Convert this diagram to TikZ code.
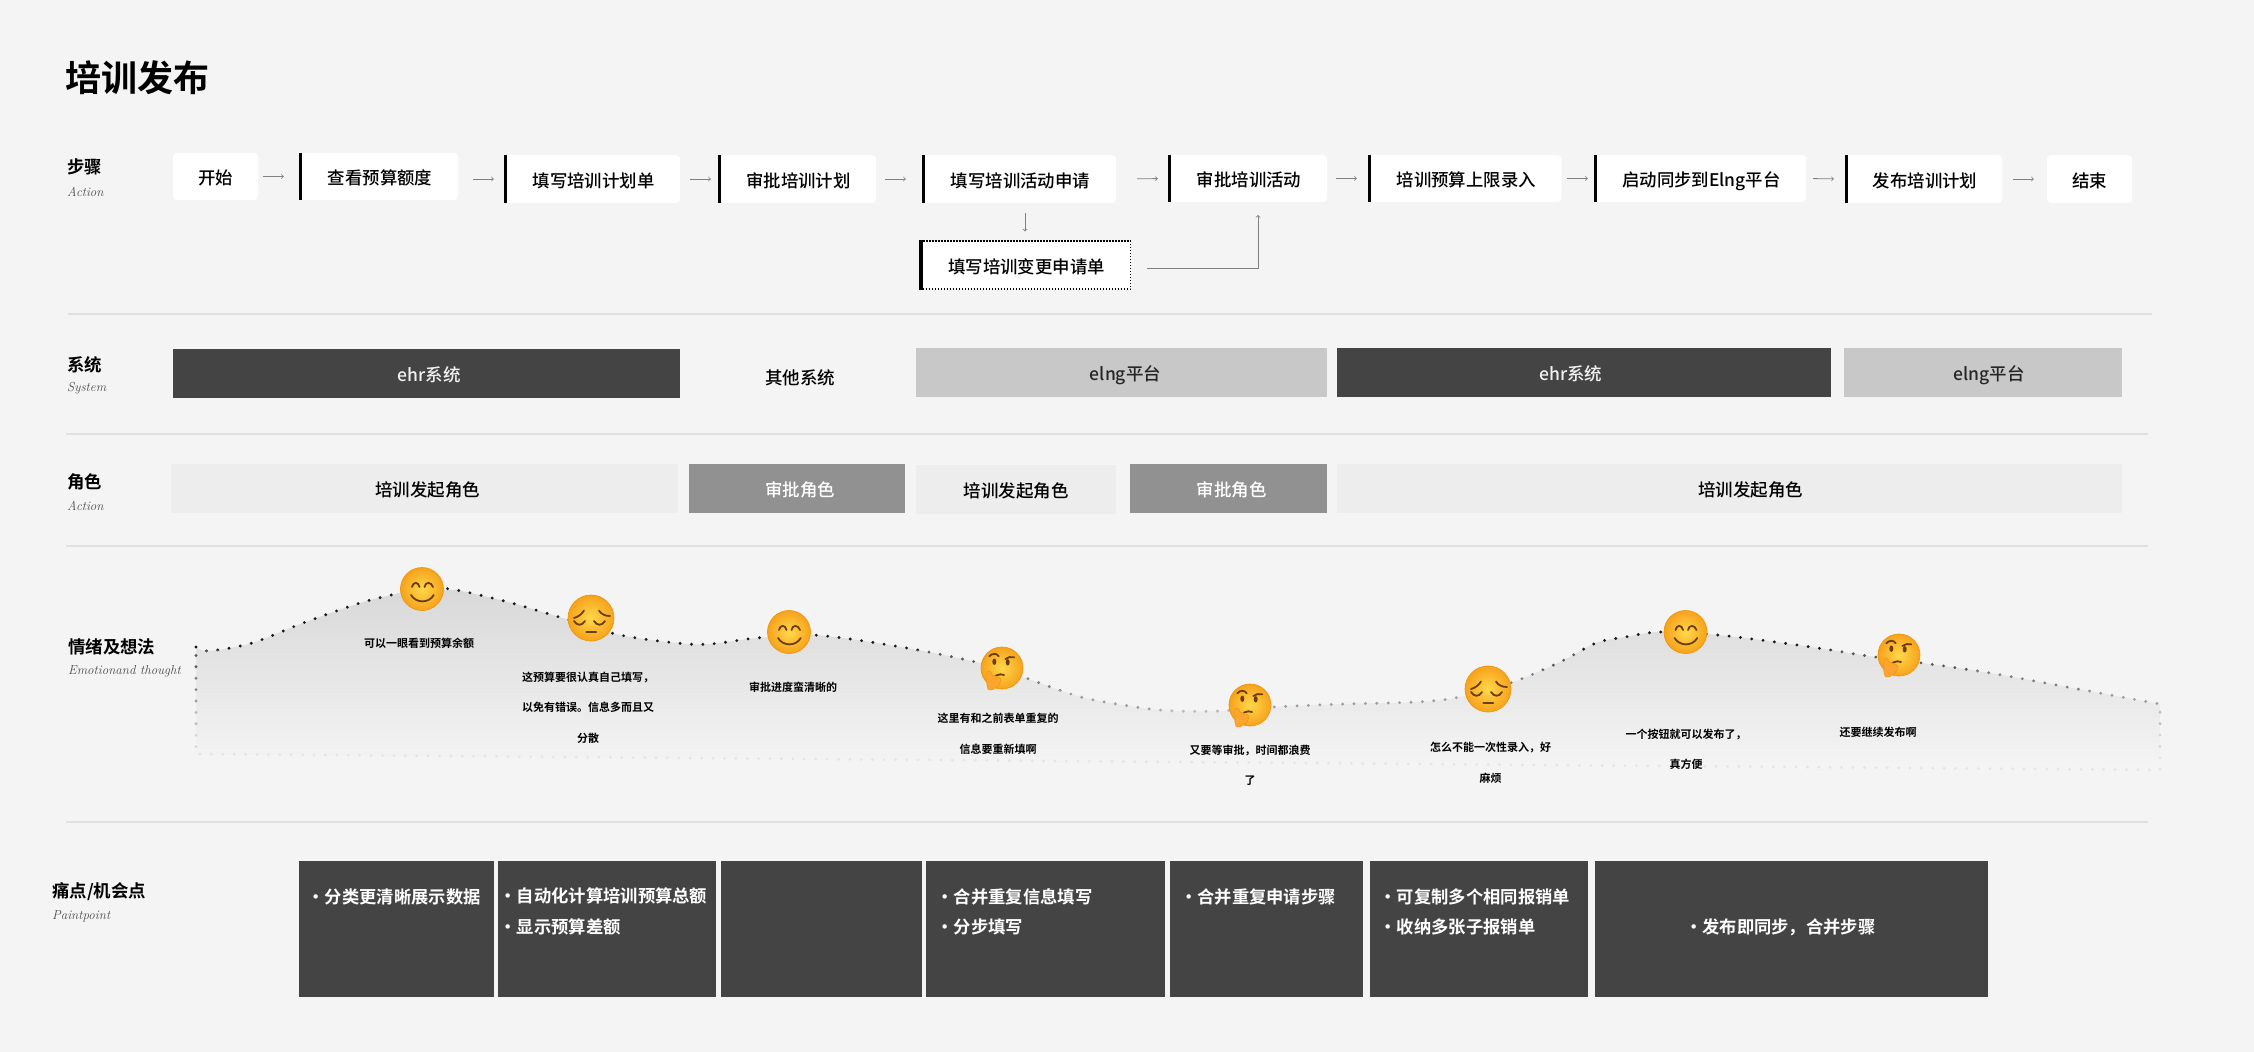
\documentclass[tikz,border=0pt]{standalone}
\usepackage{fontspec}
\newfontfamily\cjkm{Noto Sans CJK SC Medium}[BoldFont={Noto Sans CJK SC Bold}]
\newcommand{\sizept}[2]{\fontsize{#1}{#2}\selectfont}
\newcommand{\dotmark}{•\hspace{-4pt} }
\definecolor{pagebg}{HTML}{F4F4F4}
\definecolor{ruleline}{HTML}{E0E0E0}
\definecolor{darkbar}{HTML}{444444}
\definecolor{lightbar}{HTML}{C8C8C8}
\definecolor{rolelight}{HTML}{EDEDED}
\definecolor{rolemid}{HTML}{919191}
\definecolor{facein}{HTML}{FFD84A}
\definecolor{faceout}{HTML}{F6A21C}
\definecolor{facering}{HTML}{F0960F}
\definecolor{facedark}{HTML}{6B3E0A}
\definecolor{handcol}{HTML}{FBA52E}
\newcommand{\moodtop}{plot[smooth,tension=.55] coordinates {(196,647) (209,651) (252,643) (303,623) (360,603) (396,594) (422,589) (450,589) (504,601) (566,619) (620,635) (677,643) (710,644) (757,638) (814,635) (901,647) (980,663) (1023,677) (1081,697) (1136,707) (1173,711) (1223,711) (1273,707) (1345,704) (1417,702) (1460,697) (1513,682) (1560,662) (1596,643) (1625,637) (1660,632) (1718,635) (1797,645) (1875,657) (1922,663) (1990,673) (2083,690) (2160,704)}}
\tikzset{
  textshift/.style={execute at begin node={\hspace*{#1}}},
  boxtext/.style={inner sep=0pt,text height=18pt,text depth=2pt},
  stepbox/.style={boxtext,fill=white,rounded corners=4pt,text=black,font=\cjkm\sizept{17.4}{20}},
  barbox/.style={stepbox,textshift=3pt},
  changebox/.style={barbox,rounded corners=0pt,draw=black,dash pattern=on 1.5pt off 1.5pt,line width=1.2pt},
  stepbar/.style={line width=3.6pt,black},
  flow/.style={->,line width=.8pt,color=gray},
  rowrule/.style={line width=1.5pt,ruleline},
  sysdark/.style={boxtext,fill=darkbar,text=white!95!black,font=\cjkm\sizept{17.5}{20}},
  syslight/.style={boxtext,fill=lightbar,text=black!85,font=\cjkm\sizept{17.5}{20}},
  roleplain/.style={boxtext,fill=rolelight,text=black,font=\cjkm\sizept{17.5}{20}},
  roleaudit/.style={boxtext,fill=rolemid,text=white,font=\cjkm\sizept{17.5}{20}},
  rowhead/.style={anchor=west,inner sep=0pt,font=\cjkm\bfseries\sizept{17.4}{20}},
  rowsub/.style={anchor=west,inner sep=0pt,text=black!70,font=\itshape\sizept{13}{15}},
  moodtext/.style={inner sep=0pt,align=center,font=\cjkm\bfseries\sizept{11}{30.5}},
  painbox/.style={fill=darkbar,inner sep=0pt,minimum height=136pt},
  paintext/.style={anchor=west,inner sep=0pt,align=left,text=white,font=\cjkm\bfseries\sizept{17.3}{30.5}},
  facefill/.style={inner color=facein,outer color=faceout},
  facestroke/.style={line width=1.8pt,facedark,line cap=round},
  pics/smileface/.style={code={
    \shade[facefill] (0,0) circle (21.5);
    \draw[facering,line width=.7pt] (0,0) circle (21.5);
    \draw[facestroke] (-10,-2) .. controls (-9,-7.5) and (-3.5,-7.5) .. (-2.5,-2);
    \draw[facestroke] (2.5,-2) .. controls (3.5,-7.5) and (9,-7.5) .. (11,-2);
    \draw[facestroke] (-11,6) .. controls (-6,14.5) and (7,14.5) .. (11.7,6);
  }},
  pics/sadface/.style={code={
    \shade[facefill] (0,0) circle (23);
    \draw[facering,line width=.7pt] (0,0) circle (23);
    \draw[facestroke] (-17,0) .. controls (-13,-1) and (-9,-4) .. (-7,-7.5);
    \draw[facestroke] (8,-7.5) .. controls (10,-4) and (14,-2) .. (19,-2);
    \draw[facestroke] (-17,3) .. controls (-14,8) and (-9,8) .. (-6,3);
    \draw[facestroke] (3,3) .. controls (6,8) and (11,8) .. (14,3);
    \draw[facestroke,line width=2.2pt] (-4.5,14) -- (5,14);
  }},
  pics/thinkface/.style={code={
    \shade[facefill] (0,0) circle (21);
    \draw[facering,line width=.7pt] (0,0) circle (21);
    \fill[facedark] (-7.7,-6.3) ellipse (2 and 3.2);
    \fill[facedark] (5.7,-5.7) ellipse (2 and 3.2);
    \draw[facestroke] (-12.7,-11.7) .. controls (-10,-15) and (-5,-15) .. (-3.3,-11.7);
    \draw[facestroke] (3.3,-9) .. controls (6,-11) and (9,-11.5) .. (12.3,-10.7);
    \draw[facestroke] (-6,7.5) .. controls (-3,6) and (0,6) .. (2,7);
    \fill[handcol,draw=facering,line width=.5pt] (-15,4) .. controls (-13,2) and (-11,3) .. (-10,7) .. controls (-5,9) and (0,10) .. (-1,12) .. controls (-2,18) and (-9,23) .. (-13,22) .. controls (-16,21) and (-15,12) .. (-15,4) -- cycle;
  }},
}
\begin{document}
\begin{tikzpicture}[x=1pt,y=-1pt]
\fill[pagebg] (0,0) rectangle (2254,1052);
\useasboundingbox (0,0) rectangle (2254,1052);
\node[anchor=west,inner sep=0pt,font=\cjkm\bfseries\sizept{36}{40}] (title) at (65,78) {培训发布};
% row heads
\node[rowhead] (headstep) at (67,167) {步骤};
\node[rowsub] (substep) at (67,192) {Action};
\node[rowhead] (headsys) at (67,365) {系统};
\node[rowsub] (subsys) at (67,388) {System};
\node[rowhead] (headrole) at (67,482) {角色};
\node[rowsub] (subrole) at (67,506) {Action};
\node[rowhead] (headmood) at (68,647) {情绪及想法};
\node[rowsub] (submood) at (68,671) {Emotionand thought};
\node[rowhead] (headpain) at (52,892) {痛点/机会点};
\node[rowsub] (subpain) at (52,916) {Paintpoint};
% rules
\coordinate (rulea) at (68,314);
\coordinate (ruleb) at (66,434);
\coordinate (rulec) at (66,546);
\coordinate (ruled) at (66,822);
\draw[rowrule] (rulea) -- ++(2084,0);
\draw[rowrule] (ruleb) -- ++(2082,0);
\draw[rowrule] (rulec) -- ++(2082,0);
\draw[rowrule] (ruled) -- ++(2082,0);
% steps
\node[stepbox,minimum width=85,minimum height=47] (start) at (215.5,176.5) {开始};
\node[barbox,minimum width=159,minimum height=47] (budget) at (378.5,176.5) {查看预算额度};
\node[barbox,minimum width=176,minimum height=48] (plan) at (592,179) {填写培训计划单};
\node[barbox,minimum width=158,minimum height=48] (audit) at (797,179) {审批培训计划};
\node[barbox,minimum width=194,minimum height=48] (activity) at (1019,179) {填写培训活动申请};
\node[changebox,minimum width=211,minimum height=48] (change) at (1025,265) {填写培训变更申请单};
\node[barbox,minimum width=159,minimum height=47] (auditact) at (1247.5,178.5) {审批培训活动};
\node[barbox,minimum width=193.5,minimum height=47] (limit) at (1464.75,178.5) {培训预算上限录入};
\node[barbox,minimum width=212,minimum height=47] (syncing) at (1700,178.5) {启动同步到Elng平台};
\node[barbox,minimum width=157,minimum height=48] (publish) at (1923.5,179) {发布培训计划};
\node[stepbox,minimum width=85,minimum height=48] (finish) at (2089.5,179) {结束};
\foreach \n in {budget,plan,audit,activity,change,auditact,limit,syncing,publish}
  \draw[stepbar] ([xshift=1.8pt]\n.north west) -- ([xshift=1.8pt]\n.south west);
\draw[flow,shorten <=5pt,shorten >=15pt] (start.east) -- (start.east -| budget.west);
\draw[flow,shorten <=15pt,shorten >=10pt] (plan.west -| budget.east) -- (plan.west);
\draw[flow,shorten <=10pt,shorten >=7pt] (plan.east) -- (audit.west);
\draw[flow,shorten <=9pt,shorten >=16pt] (audit.east) -- (activity.west);
\draw[flow,shorten <=21pt,shorten >=10pt] (activity.east) -- (auditact.west);
\draw[flow,shorten <=9pt,shorten >=11pt] (auditact.east) -- (limit.west);
\draw[flow,shorten <=5.5pt,shorten >=6pt] (limit.east) -- (syncing.west);
\draw[flow,shorten <=7pt,shorten >=11pt] (syncing.east) -- (publish.west);
\draw[flow,shorten <=11pt,shorten >=13pt] (publish.east) -- (finish.west);
\draw[flow,shorten <=10pt,shorten >=9pt] (change.north |- activity.south) -- (change.north);
\coordinate (auditin) at (1258,215);
\draw[flow,shorten <=16pt] ([yshift=-3pt]change.east) -| (auditin);
% systems
\node[sysdark,textshift=6pt,minimum width=507.5,minimum height=49] (sysa) at (426.25,373.5) {ehr系统};
\node[inner sep=0pt,font=\cjkm\sizept{17.5}{20}] (sysother) at (800,378) {其他系统};
\node[syslight,textshift=8pt,minimum width=411,minimum height=49] (sysb) at (1121.5,372.5) {elng平台};
\node[sysdark,textshift=-26pt,minimum width=494,minimum height=49] (sysc) at (1584,372.5) {ehr系统};
\node[syslight,textshift=12pt,minimum width=278,minimum height=49] (sysd) at (1983,372.5) {elng平台};
% roles
\node[roleplain,textshift=6pt,minimum width=507,minimum height=49] (rolea) at (424.5,488.5) {培训发起角色};
\node[roleaudit,textshift=6pt,minimum width=216,minimum height=49] (roleb) at (797,488.5) {审批角色};
\node[roleplain,minimum width=200,minimum height=49] (rolec) at (1016,489.5) {培训发起角色};
\node[roleaudit,textshift=6pt,minimum width=197,minimum height=49] (roled) at (1228.5,488.5) {审批角色};
\node[roleplain,textshift=42pt,minimum width=785,minimum height=49] (rolee) at (1729.5,488.5) {培训发起角色};
% mood curve
\begin{scope}
\clip \moodtop -- (2160,770) -- (196,754) -- cycle;
\shade[top color=black!15,bottom color=pagebg] (190,590) rectangle (2165,765);
\end{scope}
\foreach \ytop/\ybot/\dotcol in {580/650/black!90,650/670/black!65,670/690/black!50,690/710/black!38,710/730/black!26,730/750/black!16,750/775/black!10}{
  \begin{scope}
  \clip (185,\ytop) rectangle (2170,\ybot);
  \draw[\dotcol,line width=3.2pt,line cap=round,dash pattern=on 0pt off 11.4pt] \moodtop -- (2160,770) -- (196,754) -- cycle;
  \end{scope}
}
\pic (faceone) at (422,589) {smileface};
\pic (facetwo) at (591,618) {sadface};
\pic (facethree) at (789,632) {smileface};
\pic (facefour) at (1002,668) {thinkface};
\pic (facefive) at (1250,705) {thinkface};
\pic (facesix) at (1488,689) {sadface};
\pic (faceseven) at (1685.5,632) {smileface};
\pic (faceeight) at (1899,655) {thinkface};
\node[moodtext] (moodone) at (419,643) {可以一眼看到预算余额};
\node[moodtext] (moodtwo) at (588,707.5) {这预算要很认真自己填写，\\以免有错误。信息多而且又\\分散};
\node[moodtext] (moodthree) at (793,687) {审批进度蛮清晰的};
\node[moodtext] (moodfour) at (998,734) {这里有和之前表单重复的\\信息要重新填啊};
\node[moodtext] (moodfive) at (1250,765.5) {又要等审批，时间都浪费\\了};
\node[moodtext] (moodsix) at (1490.5,763) {怎么不能一次性录入，好\\麻烦};
\node[moodtext] (moodseven) at (1686,749.5) {一个按钮就可以发布了，\\真方便};
\node[moodtext] (moodeight) at (1878,732) {还要继续发布啊};
% pain points
\node[painbox,minimum width=195] (paina) at (396.5,929) {};
\node[painbox,minimum width=218] (painb) at (607,929) {};
\node[painbox,minimum width=201] (painc) at (821.5,929) {};
\node[painbox,minimum width=239] (paind) at (1045.5,929) {};
\node[painbox,minimum width=193] (paine) at (1266.5,929) {};
\node[painbox,minimum width=218] (painf) at (1479,929) {};
\node[painbox,minimum width=393] (paing) at (1791.5,929) {};
\node[paintext] (texta) at (307.5,897) {\dotmark 分类更清晰展示数据};
\node[paintext] (textb) at (499.5,911.5) {\dotmark 自动化计算培训预算总额\\\dotmark 显示预算差额};
\node[paintext] (textd) at (936.5,912) {\dotmark 合并重复信息填写\\\dotmark 分步填写};
\node[paintext] (texte) at (1180,897) {\dotmark 合并重复申请步骤};
\node[paintext] (textf) at (1379.5,912) {\dotmark 可复制多个相同报销单\\\dotmark 收纳多张子报销单};
\node[paintext] (textg) at (1685,927) {\dotmark 发布即同步，合并步骤};
\end{tikzpicture}
\end{document}
